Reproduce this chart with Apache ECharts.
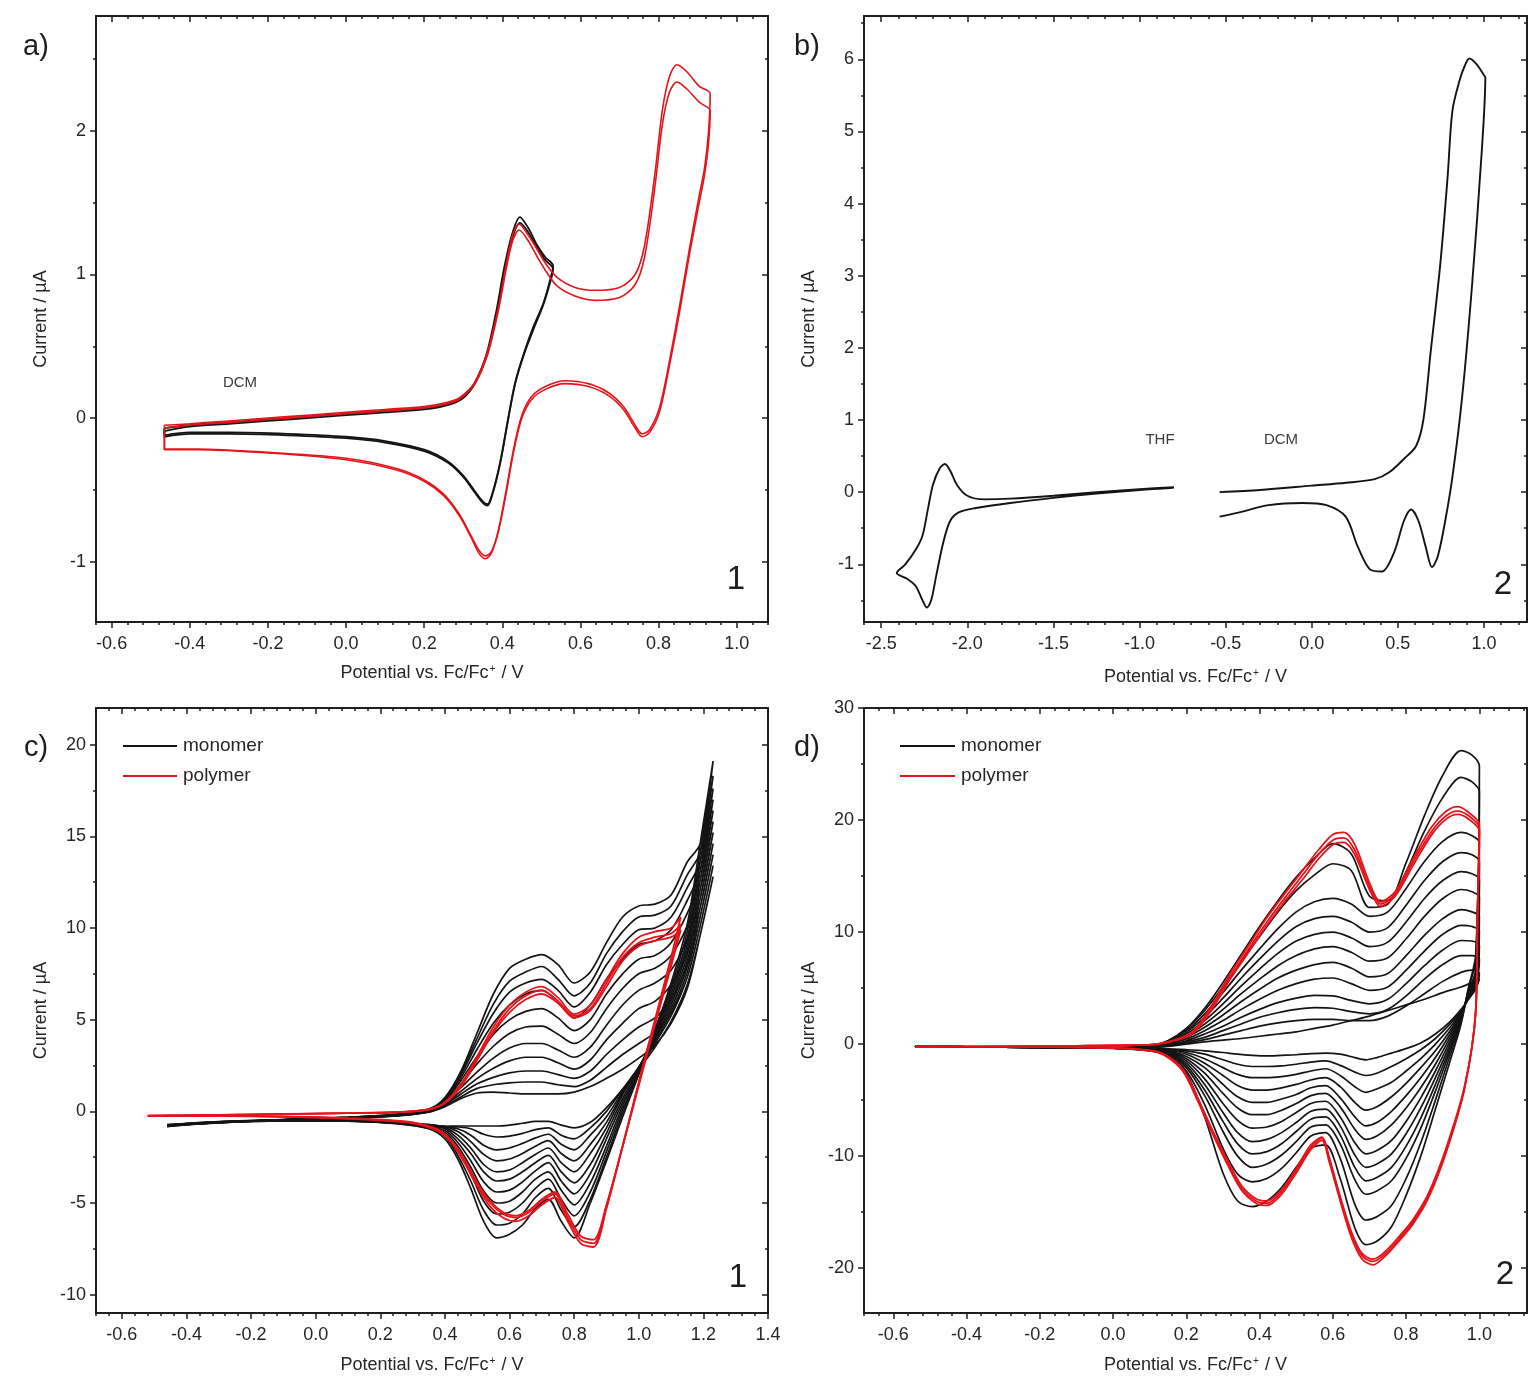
<!DOCTYPE html>
<html>
<head>
<meta charset="utf-8">
<script src="https://cdn.jsdelivr.net/npm/echarts@6/dist/echarts.min.js"></script>
<style>
  html, body { margin: 0; padding: 0; background: #fff; }
  #chart { width: 1531px; height: 1382px; }
</style>
</head>
<body>
<div id="chart"></div>
<script>
// ---------- Panel a: compound 1 in DCM, [potential V, current µA] ----------
const aNarrowScanA = [[-0.465,-0.07],[-0.40,-0.05],[-0.30,-0.03],[-0.20,-0.01],[-0.10,0.01],[0.0,0.03],[0.10,0.05],[0.20,0.07],[0.26,0.10],[0.30,0.15],[0.33,0.25],[0.36,0.45],[0.385,0.75],[0.405,1.05],[0.425,1.28],[0.445,1.40],[0.465,1.33],[0.49,1.20],[0.51,1.12],[0.53,1.06],
  [0.522,0.96],[0.505,0.80],[0.48,0.64],[0.455,0.45],[0.433,0.25],[0.415,0.0],[0.395,-0.30],[0.375,-0.52],[0.362,-0.60],[0.35,-0.58],[0.33,-0.51],[0.30,-0.40],[0.26,-0.30],[0.20,-0.22],[0.10,-0.16],[0.0,-0.13],[-0.15,-0.11],[-0.30,-0.10],[-0.40,-0.10],[-0.465,-0.12],[-0.465,-0.07]];
const aNarrowScanB = [[-0.465,-0.09],[-0.40,-0.06],[-0.30,-0.04],[-0.20,-0.02],[-0.10,0.0],[0.0,0.02],[0.10,0.04],[0.20,0.06],[0.26,0.09],[0.30,0.14],[0.33,0.24],[0.36,0.43],[0.385,0.72],[0.405,1.02],[0.425,1.25],[0.445,1.36],[0.465,1.30],[0.49,1.18],[0.51,1.10],[0.53,1.04],
  [0.522,0.94],[0.505,0.79],[0.48,0.62],[0.455,0.44],[0.433,0.24],[0.415,-0.01],[0.395,-0.31],[0.375,-0.53],[0.362,-0.61],[0.35,-0.59],[0.33,-0.52],[0.30,-0.41],[0.26,-0.31],[0.20,-0.23],[0.10,-0.17],[0.0,-0.14],[-0.15,-0.12],[-0.30,-0.11],[-0.40,-0.11],[-0.465,-0.13],[-0.465,-0.09]];
const aWideScanA = [[-0.465,-0.05],[-0.40,-0.04],[-0.30,-0.02],[-0.20,0.0],[-0.10,0.02],[0.0,0.04],[0.10,0.06],[0.20,0.08],[0.26,0.11],[0.29,0.14],[0.33,0.25],[0.363,0.47],[0.39,0.77],[0.41,1.07],[0.427,1.28],[0.443,1.35],[0.465,1.28],[0.49,1.17],[0.51,1.08],[0.54,0.98],[0.586,0.91],[0.637,0.89],[0.70,0.91],[0.74,1.0],[0.764,1.2],[0.79,1.69],[0.81,2.15],[0.828,2.38],[0.847,2.46],[0.873,2.41],[0.904,2.31],[0.932,2.26],
  [0.928,2.0],[0.918,1.75],[0.904,1.55],[0.879,1.18],[0.853,0.77],[0.828,0.40],[0.803,0.08],[0.777,-0.08],[0.758,-0.11],[0.738,-0.04],[0.71,0.08],[0.67,0.18],[0.62,0.24],[0.56,0.26],[0.51,0.22],[0.475,0.15],[0.45,0.02],[0.43,-0.20],[0.41,-0.50],[0.39,-0.78],[0.372,-0.94],[0.357,-0.98],[0.34,-0.94],[0.32,-0.83],[0.29,-0.68],[0.25,-0.54],[0.20,-0.44],[0.127,-0.36],[0.0,-0.29],[-0.19,-0.245],[-0.38,-0.22],[-0.465,-0.22],[-0.465,-0.05]];
const aWideScanB = [[-0.465,-0.07],[-0.40,-0.05],[-0.30,-0.03],[-0.20,-0.01],[-0.10,0.01],[0.0,0.03],[0.10,0.05],[0.20,0.07],[0.26,0.10],[0.29,0.13],[0.33,0.24],[0.363,0.45],[0.39,0.75],[0.41,1.04],[0.427,1.24],[0.443,1.31],[0.465,1.24],[0.49,1.12],[0.51,1.03],[0.54,0.92],[0.586,0.85],[0.637,0.82],[0.70,0.84],[0.74,0.93],[0.764,1.12],[0.79,1.6],[0.81,2.05],[0.828,2.27],[0.847,2.34],[0.873,2.29],[0.904,2.2],[0.932,2.14],
  [0.928,1.92],[0.918,1.7],[0.904,1.5],[0.879,1.14],[0.853,0.73],[0.828,0.37],[0.803,0.05],[0.777,-0.10],[0.758,-0.13],[0.738,-0.06],[0.71,0.06],[0.67,0.16],[0.62,0.22],[0.56,0.24],[0.51,0.20],[0.475,0.13],[0.45,0.0],[0.43,-0.22],[0.41,-0.52],[0.39,-0.79],[0.372,-0.93],[0.357,-0.96],[0.34,-0.92],[0.32,-0.82],[0.29,-0.67],[0.25,-0.53],[0.20,-0.43],[0.127,-0.35],[0.0,-0.28],[-0.19,-0.24],[-0.38,-0.215],[-0.465,-0.215],[-0.465,-0.07]];

// ---------- Panel b: compound 2, THF (reduction) and DCM (oxidation) ----------
const bTHF = [[-0.80,0.06],[-1.0,0.03],[-1.25,-0.02],[-1.5,-0.08],[-1.75,-0.15],[-1.95,-0.22],[-2.05,-0.28],[-2.10,-0.40],[-2.14,-0.70],[-2.18,-1.15],[-2.21,-1.50],[-2.235,-1.60],[-2.26,-1.50],[-2.30,-1.30],[-2.35,-1.20],[-2.41,-1.12],
  [-2.36,-1.0],[-2.30,-0.80],[-2.26,-0.60],[-2.23,-0.25],[-2.20,0.10],[-2.16,0.33],[-2.13,0.39],[-2.10,0.30],[-2.06,0.10],[-2.0,-0.05],[-1.9,-0.10],[-1.75,-0.09],[-1.5,-0.05],[-1.25,0.0],[-1.0,0.04],[-0.80,0.07]];
const bDCM = [[-0.535,0.0],[-0.30,0.03],[0.0,0.09],[0.20,0.13],[0.366,0.18],[0.45,0.275],[0.535,0.46],[0.606,0.64],[0.648,1.0],[0.69,1.93],[0.746,3.15],[0.789,4.37],[0.817,5.29],[0.86,5.72],[0.887,5.9],[0.915,6.01],[0.958,5.93],[1.0,5.78],
  [1.008,5.75],[0.986,4.68],[0.93,2.84],[0.873,1.31],[0.817,0.21],[0.775,-0.40],[0.732,-0.89],[0.698,-1.04],[0.662,-0.76],[0.62,-0.40],[0.577,-0.24],[0.535,-0.40],[0.479,-0.83],[0.408,-1.10],[0.338,-1.07],[0.268,-0.76],[0.197,-0.34],[0.085,-0.18],[-0.056,-0.15],[-0.25,-0.18],[-0.42,-0.28],[-0.535,-0.34]];

// ---------- Panel c: electropolymerisation of 1, successive cycles ----------
const cFwdX = [-0.46, -0.3, -0.1, 0.1, 0.25, 0.35, 0.40, 0.45, 0.50, 0.55, 0.60, 0.65, 0.70, 0.75, 0.80, 0.85, 0.90, 0.95, 1.00, 1.05, 1.10, 1.15, 1.19, 1.23];
const cRevX = [1.23, 1.19, 1.15, 1.10, 1.05, 1.00, 0.95, 0.90, 0.85, 0.80, 0.76, 0.72, 0.68, 0.64, 0.60, 0.56, 0.52, 0.48, 0.44, 0.40, 0.35, 0.25, 0.10, -0.10, -0.30, -0.46];
const cMonomerFwd = [
  [-0.72, -0.58, -0.45, -0.36, -0.25, -0.05, 0.25, 0.7, 1.0, 1.05, 1.0, 0.95, 0.95, 0.95, 1.05, 1.35, 1.8, 2.3, 2.9, 3.6, 4.8, 6.7, 9.6, 12.8],
  [-0.74, -0.59, -0.45, -0.35, -0.24, -0.03, 0.3, 0.8, 1.25, 1.45, 1.55, 1.6, 1.6, 1.45, 1.35, 1.7, 2.4, 3.1, 3.7, 4.3, 5.4, 7.3, 10.1, 13.4],
  [-0.75, -0.6, -0.46, -0.35, -0.24, -0.02, 0.35, 0.95, 1.5, 1.85, 2.1, 2.2, 2.2, 2.0, 1.8, 2.2, 3.1, 3.9, 4.6, 5.1, 6.1, 8.0, 10.6, 14.0],
  [-0.76, -0.6, -0.46, -0.35, -0.23, 0.0, 0.4, 1.1, 1.8, 2.35, 2.75, 2.95, 2.95, 2.65, 2.3, 2.8, 3.9, 4.8, 5.6, 6.0, 6.9, 8.7, 11.1, 14.6],
  [-0.76, -0.6, -0.46, -0.34, -0.22, 0.02, 0.45, 1.3, 2.15, 2.9, 3.45, 3.7, 3.7, 3.35, 2.95, 3.5, 4.7, 5.8, 6.6, 7.0, 7.7, 9.4, 11.6, 15.2],
  [-0.77, -0.61, -0.46, -0.34, -0.21, 0.04, 0.5, 1.5, 2.6, 3.55, 4.25, 4.6, 4.65, 4.2, 3.7, 4.3, 5.6, 6.7, 7.5, 7.8, 8.5, 10.1, 12.1, 15.8],
  [-0.77, -0.61, -0.46, -0.34, -0.2, 0.06, 0.55, 1.7, 3.0, 4.2, 5.0, 5.45, 5.6, 5.1, 4.4, 5.0, 6.4, 7.5, 8.3, 8.5, 9.2, 10.8, 12.6, 16.4],
  [-0.78, -0.62, -0.46, -0.33, -0.19, 0.08, 0.6, 1.85, 3.4, 4.8, 5.8, 6.4, 6.6, 6.0, 5.1, 5.8, 7.2, 8.3, 9.1, 9.3, 9.9, 11.5, 13.1, 17.0],
  [-0.78, -0.62, -0.46, -0.33, -0.18, 0.09, 0.65, 2.0, 3.75, 5.35, 6.5, 7.0, 7.2, 6.6, 5.7, 6.5, 8.0, 9.1, 9.9, 10.0, 10.6, 12.2, 13.6, 17.6],
  [-0.79, -0.62, -0.46, -0.33, -0.17, 0.1, 0.7, 2.1, 4.0, 5.85, 7.1, 7.6, 7.9, 7.2, 6.3, 7.0, 8.6, 9.8, 10.6, 10.7, 11.2, 12.9, 14.1, 18.3],
  [-0.8, -0.63, -0.46, -0.32, -0.16, 0.12, 0.75, 2.2, 4.3, 6.4, 7.8, 8.3, 8.55, 8.0, 7.0, 7.6, 9.2, 10.6, 11.2, 11.3, 11.8, 13.6, 14.6, 19.1]
];
const cMonomerRev = [
  [12.8, 9.6, 6.9, 4.9, 3.5, 2.3, 1.2, 0.2, -0.6, -0.9, -0.75, -0.55, -0.55, -0.65, -0.75, -0.8, -0.8, -0.8, -0.8, -0.82, -0.72, -0.6, -0.5, -0.47, -0.56, -0.72],
  [13.4, 10.1, 7.3, 5.2, 3.7, 2.4, 1.2, 0.0, -0.9, -1.5, -1.3, -0.9, -1.0, -1.2, -1.35, -1.4, -1.25, -0.95, -0.85, -0.82, -0.73, -0.6, -0.5, -0.48, -0.57, -0.74],
  [14.0, 10.6, 7.6, 5.4, 3.8, 2.4, 1.1, -0.3, -1.3, -2.1, -1.8, -1.25, -1.45, -1.75, -2.0, -2.1, -1.85, -1.3, -0.95, -0.83, -0.75, -0.61, -0.5, -0.48, -0.58, -0.75],
  [14.6, 11.1, 7.9, 5.6, 3.9, 2.4, 1.0, -0.6, -1.8, -2.7, -2.3, -1.6, -1.9, -2.3, -2.6, -2.7, -2.35, -1.65, -1.1, -0.85, -0.77, -0.62, -0.5, -0.49, -0.58, -0.76],
  [15.2, 11.6, 8.2, 5.8, 4.0, 2.4, 0.9, -0.9, -2.3, -3.3, -2.8, -2.0, -2.35, -2.8, -3.2, -3.3, -2.9, -2.0, -1.3, -0.9, -0.8, -0.63, -0.51, -0.49, -0.59, -0.77],
  [15.8, 12.1, 8.5, 6.0, 4.1, 2.3, 0.7, -1.2, -2.9, -3.9, -3.3, -2.4, -2.8, -3.3, -3.7, -3.8, -3.3, -2.3, -1.5, -0.95, -0.82, -0.63, -0.51, -0.5, -0.6, -0.78],
  [16.4, 12.6, 8.8, 6.2, 4.2, 2.3, 0.5, -1.5, -3.4, -4.5, -3.8, -2.8, -3.25, -3.85, -4.3, -4.4, -3.85, -2.7, -1.7, -1.05, -0.85, -0.64, -0.52, -0.5, -0.6, -0.79],
  [17.0, 13.1, 9.1, 6.4, 4.3, 2.2, 0.3, -1.9, -3.9, -5.1, -4.3, -3.3, -3.7, -4.4, -4.9, -5.0, -4.35, -3.05, -1.9, -1.15, -0.88, -0.64, -0.52, -0.51, -0.61, -0.8],
  [17.6, 13.6, 9.4, 6.6, 4.4, 2.1, 0.1, -2.2, -4.4, -5.7, -4.8, -3.7, -4.2, -5.0, -5.5, -5.6, -4.9, -3.4, -2.15, -1.25, -0.9, -0.65, -0.52, -0.51, -0.61, -0.81],
  [18.3, 14.1, 9.8, 6.8, 4.5, 2.1, -0.1, -2.5, -4.8, -6.3, -5.4, -4.2, -4.7, -5.6, -6.1, -6.2, -5.4, -3.8, -2.4, -1.35, -0.93, -0.66, -0.53, -0.52, -0.62, -0.82],
  [19.1, 14.6, 10.2, 7.0, 4.4, 2.0, -0.3, -2.7, -5.0, -6.9, -6.0, -4.8, -5.3, -6.2, -6.7, -6.9, -6.0, -4.2, -2.6, -1.5, -0.95, -0.67, -0.53, -0.52, -0.62, -0.83]
];
const cPolyFwdX = [-0.52, -0.3, -0.1, 0.1, 0.25, 0.35, 0.40, 0.45, 0.50, 0.55, 0.60, 0.65, 0.70, 0.75, 0.80, 0.85, 0.90, 0.95, 1.00, 1.05, 1.10, 1.13];
const cPolyRevX = [1.13, 1.10, 1.05, 1.00, 0.95, 0.90, 0.86, 0.82, 0.78, 0.74, 0.70, 0.66, 0.62, 0.58, 0.54, 0.50, 0.46, 0.42, 0.38, 0.30, 0.10, -0.10, -0.30, -0.52];
const cPolymerFwd = [
  [-0.25, -0.2, -0.15, -0.1, -0.05, 0.1, 0.5, 1.5, 3.0, 4.6, 5.8, 6.5, 6.8, 6.2, 5.3, 5.8, 7.2, 8.6, 9.5, 9.8, 10.0, 10.6],
  [-0.24, -0.2, -0.15, -0.1, -0.05, 0.1, 0.45, 1.4, 2.9, 4.4, 5.6, 6.3, 6.6, 6.0, 5.2, 5.6, 7.0, 8.4, 9.2, 9.5, 9.7, 10.2],
  [-0.24, -0.19, -0.14, -0.1, -0.05, 0.1, 0.45, 1.35, 2.8, 4.3, 5.4, 6.1, 6.4, 5.9, 5.1, 5.5, 6.8, 8.2, 9.0, 9.3, 9.5, 9.9]
];
const cPolymerRev = [
  [10.6, 8.4, 5.0, 1.6, -1.9, -5.3, -7.4, -7.2, -6.0, -4.7, -5.1, -5.7, -6.0, -5.8, -5.2, -4.1, -2.8, -1.7, -1.1, -0.65, -0.4, -0.3, -0.26, -0.25],
  [10.2, 8.1, 4.8, 1.5, -1.9, -5.2, -7.2, -7.0, -5.8, -4.5, -4.9, -5.5, -5.8, -5.6, -5.0, -4.0, -2.7, -1.65, -1.05, -0.62, -0.38, -0.29, -0.25, -0.24],
  [9.9, 7.9, 4.7, 1.4, -1.9, -5.1, -7.0, -6.8, -5.6, -4.4, -4.8, -5.4, -5.7, -5.5, -4.9, -3.9, -2.6, -1.6, -1.0, -0.6, -0.37, -0.28, -0.25, -0.24]
];

// ---------- Panel d: electropolymerisation of 2, successive cycles ----------
const dFwdX = [-0.54, -0.4, -0.2, 0.0, 0.1, 0.15, 0.2, 0.25, 0.3, 0.35, 0.4, 0.45, 0.5, 0.55, 0.6, 0.65, 0.7, 0.75, 0.8, 0.85, 0.9, 0.95, 0.98, 1.0];
const dRevX = [1.0, 0.99, 0.97, 0.95, 0.92, 0.88, 0.84, 0.80, 0.76, 0.72, 0.69, 0.66, 0.62, 0.58, 0.54, 0.50, 0.46, 0.42, 0.38, 0.34, 0.30, 0.25, 0.20, 0.15, 0.10, 0.0, -0.2, -0.4, -0.54];
const dMonomerFwd = [
  [-0.2, -0.25, -0.3, -0.35, -0.3, -0.2, 0.0, 0.2, 0.35, 0.5, 0.7, 0.9, 1.1, 1.4, 1.7, 2.1, 2.5, 3.0, 3.5, 4.0, 4.6, 5.1, 5.5, 5.8],
  [-0.2, -0.25, -0.3, -0.35, -0.3, -0.15, 0.1, 0.4, 0.8, 1.2, 1.6, 1.9, 2.1, 2.2, 2.2, 2.1, 2.1, 2.5, 3.4, 4.5, 5.6, 6.4, 6.6, 6.3],
  [-0.2, -0.25, -0.3, -0.35, -0.28, -0.1, 0.2, 0.6, 1.2, 1.8, 2.4, 2.8, 3.1, 3.25, 3.2, 2.9, 2.7, 3.1, 4.3, 5.8, 7.1, 7.9, 7.9, 7.6],
  [-0.2, -0.25, -0.3, -0.35, -0.27, -0.05, 0.3, 0.9, 1.6, 2.4, 3.1, 3.7, 4.1, 4.35, 4.3, 3.9, 3.6, 4.0, 5.4, 7.0, 8.4, 9.25, 9.2, 8.8],
  [-0.2, -0.25, -0.3, -0.34, -0.26, 0.0, 0.45, 1.2, 2.1, 3.1, 4.0, 4.8, 5.4, 5.8, 5.9, 5.4, 4.8, 5.1, 6.6, 8.3, 9.8, 10.6, 10.5, 10.1],
  [-0.2, -0.25, -0.3, -0.34, -0.25, 0.05, 0.6, 1.5, 2.6, 3.8, 4.9, 5.9, 6.6, 7.1, 7.3, 6.8, 6.0, 6.3, 7.9, 9.7, 11.2, 12.0, 11.8, 11.4],
  [-0.2, -0.25, -0.3, -0.34, -0.24, 0.1, 0.75, 1.8, 3.1, 4.5, 5.8, 7.0, 7.9, 8.5, 8.7, 8.2, 7.4, 7.7, 9.4, 11.4, 13.0, 13.8, 13.6, 13.1],
  [-0.2, -0.25, -0.3, -0.33, -0.23, 0.15, 0.9, 2.1, 3.6, 5.2, 6.7, 8.1, 9.2, 9.8, 10.0, 9.5, 8.7, 9.1, 10.9, 13.0, 14.6, 15.4, 15.2, 14.7],
  [-0.2, -0.25, -0.3, -0.33, -0.22, 0.2, 1.05, 2.4, 4.1, 5.9, 7.6, 9.2, 10.5, 11.2, 11.4, 10.9, 10.0, 10.4, 12.4, 14.6, 16.3, 17.1, 16.9, 16.3],
  [-0.2, -0.25, -0.3, -0.33, -0.21, 0.25, 1.2, 2.7, 4.6, 6.6, 8.5, 10.3, 11.8, 12.7, 13.0, 12.5, 11.4, 11.8, 13.9, 16.3, 18.1, 18.9, 18.6, 18.0],
  [-0.2, -0.25, -0.3, -0.32, -0.2, 0.3, 1.35, 3.0, 5.1, 7.4, 9.6, 11.8, 13.7, 15.1, 16.1, 15.5, 12.2, 12.5, 15.4, 19.0, 22.0, 23.8, 23.4, 22.5],
  [-0.2, -0.25, -0.3, -0.32, -0.2, 0.3, 1.4, 3.2, 5.5, 8.0, 10.5, 12.8, 14.9, 16.6, 17.9, 17.0, 13.2, 12.8, 16.2, 20.4, 24.0, 26.2, 25.8, 24.8]
];
const dMonomerRev = [
  [5.8, 4.9, 4.0, 3.1, 2.0, 0.9, 0.1, -0.4, -0.8, -1.2, -1.4, -1.2, -0.9, -0.8, -0.85, -0.95, -1.0, -1.05, -1.0, -0.9, -0.75, -0.6, -0.5, -0.42, -0.38, -0.32, -0.28, -0.24, -0.22],
  [6.3, 5.0, 4.0, 3.0, 1.8, 0.5, -0.5, -1.3, -2.0, -2.6, -2.8, -2.5, -1.9, -1.5, -1.6, -1.8, -1.95, -2.0, -2.0, -1.8, -1.4, -0.9, -0.6, -0.45, -0.39, -0.33, -0.28, -0.24, -0.22],
  [7.6, 5.2, 4.1, 2.9, 1.5, 0.0, -1.3, -2.4, -3.4, -4.0, -4.3, -3.8, -2.8, -2.2, -2.4, -2.7, -2.9, -3.0, -3.0, -2.7, -2.1, -1.3, -0.75, -0.5, -0.4, -0.33, -0.28, -0.24, -0.22],
  [8.8, 5.4, 4.1, 2.8, 1.2, -0.6, -2.1, -3.5, -4.7, -5.6, -5.9, -5.2, -3.8, -3.0, -3.2, -3.6, -3.9, -4.1, -4.1, -3.7, -2.8, -1.7, -0.9, -0.55, -0.42, -0.34, -0.28, -0.24, -0.22],
  [10.1, 5.6, 4.2, 2.7, 0.9, -1.2, -3.0, -4.6, -6.0, -7.0, -7.3, -6.5, -4.8, -3.7, -3.9, -4.5, -4.9, -5.2, -5.2, -4.7, -3.6, -2.1, -1.1, -0.6, -0.44, -0.34, -0.28, -0.24, -0.22],
  [11.4, 5.8, 4.3, 2.6, 0.6, -1.8, -3.9, -5.7, -7.2, -8.2, -8.5, -7.6, -5.6, -4.4, -4.6, -5.3, -5.9, -6.3, -6.3, -5.7, -4.4, -2.6, -1.3, -0.65, -0.46, -0.35, -0.28, -0.24, -0.22],
  [13.1, 6.0, 4.4, 2.5, 0.3, -2.4, -4.8, -6.9, -8.6, -9.5, -9.8, -8.8, -6.5, -5.1, -5.3, -6.1, -6.9, -7.4, -7.5, -6.8, -5.3, -3.1, -1.5, -0.7, -0.48, -0.35, -0.28, -0.24, -0.22],
  [14.7, 6.2, 4.5, 2.4, 0.0, -3.0, -5.7, -8.0, -9.8, -10.7, -11.0, -9.9, -7.3, -5.8, -6.0, -7.0, -7.9, -8.5, -8.7, -7.9, -6.1, -3.6, -1.7, -0.75, -0.5, -0.36, -0.28, -0.24, -0.22],
  [16.3, 6.4, 4.6, 2.3, -0.3, -3.6, -6.6, -9.1, -11.0, -11.9, -12.2, -11.0, -8.1, -6.5, -6.7, -7.8, -8.9, -9.6, -9.8, -8.9, -6.9, -4.1, -1.9, -0.8, -0.52, -0.36, -0.28, -0.24, -0.22],
  [18.0, 6.6, 4.7, 2.2, -0.6, -4.2, -7.5, -10.2, -12.2, -13.1, -13.4, -12.1, -8.9, -7.2, -7.4, -8.7, -9.9, -10.7, -11.0, -10.0, -7.8, -4.6, -2.1, -0.85, -0.54, -0.37, -0.28, -0.24, -0.22],
  [22.5, 7.5, 4.9, 2.0, -1.0, -5.0, -8.8, -12.0, -14.4, -15.4, -15.7, -14.3, -10.2, -7.9, -8.2, -9.7, -11.1, -12.0, -12.3, -11.6, -9.3, -5.4, -2.4, -0.95, -0.56, -0.37, -0.28, -0.24, -0.22],
  [24.8, 8.0, 5.0, 1.8, -1.5, -5.8, -10.0, -13.5, -16.3, -17.6, -17.9, -16.4, -12.0, -9.0, -9.3, -11.0, -12.8, -14.0, -14.5, -14.0, -11.5, -6.5, -2.6, -1.0, -0.6, -0.38, -0.28, -0.24, -0.22]
];
const dPolyFwdX = [-0.54, -0.3, -0.1, 0.05, 0.12, 0.18, 0.22, 0.27, 0.32, 0.37, 0.42, 0.47, 0.52, 0.56, 0.60, 0.63, 0.66, 0.70, 0.73, 0.77, 0.82, 0.87, 0.91, 0.94, 0.97, 1.0];
const dPolyRevX = [1.0, 0.995, 0.99, 0.96, 0.91, 0.86, 0.82, 0.78, 0.74, 0.71, 0.68, 0.65, 0.62, 0.59, 0.57, 0.54, 0.50, 0.46, 0.42, 0.39, 0.35, 0.31, 0.27, 0.23, 0.19, 0.14, 0.10, 0.0, -0.2, -0.4, -0.54];
const dPolymerFwd = [
  [-0.25, -0.2, -0.15, -0.1, 0.0, 0.5, 1.2, 3.5, 6.3, 8.8, 11.3, 13.5, 15.6, 17.3, 18.7, 18.9, 17.8, 14.4, 12.7, 13.6, 16.6, 19.4, 20.8, 21.2, 20.7, 19.6],
  [-0.25, -0.2, -0.15, -0.1, 0.0, 0.45, 1.1, 3.3, 6.0, 8.5, 10.9, 13.1, 15.2, 16.9, 18.2, 18.4, 17.3, 14.1, 12.5, 13.4, 16.3, 19.0, 20.4, 20.8, 20.4, 19.3],
  [-0.25, -0.2, -0.15, -0.1, 0.0, 0.42, 1.0, 3.1, 5.8, 8.2, 10.6, 12.8, 14.8, 16.5, 17.8, 18.0, 16.9, 13.8, 12.3, 13.2, 16.0, 18.7, 20.1, 20.5, 20.1, 19.0]
];
const dPolymerRev = [
  [19.6, 12.0, 3.0, -3.9, -9.6, -13.8, -16.0, -17.6, -19.0, -19.7, -19.2, -17.2, -14.0, -10.5, -8.6, -9.4, -11.5, -13.4, -14.4, -14.2, -13.0, -10.6, -7.9, -5.0, -2.4, -1.0, -0.6, -0.35, -0.25, -0.22, -0.2],
  [19.3, 11.8, 2.9, -3.8, -9.4, -13.6, -15.8, -17.4, -18.8, -19.4, -18.9, -16.9, -13.8, -10.3, -8.4, -9.2, -11.3, -13.2, -14.2, -14.0, -12.8, -10.4, -7.7, -4.8, -2.3, -0.95, -0.58, -0.34, -0.25, -0.22, -0.2],
  [19.0, 11.6, 2.8, -3.7, -9.2, -13.4, -15.6, -17.2, -18.6, -19.2, -18.7, -16.7, -13.6, -10.1, -8.3, -9.0, -11.1, -13.0, -14.0, -13.8, -12.6, -10.2, -7.6, -4.7, -2.2, -0.9, -0.56, -0.33, -0.24, -0.21, -0.2]
];

// ---------- Axis ticks ----------
const aXTicks = [-0.6, -0.4, -0.2, 0.0, 0.2, 0.4, 0.6, 0.8, 1.0];
const aYTicks = [-1, 0, 1, 2];
const bXTicks = [-2.5, -2.0, -1.5, -1.0, -0.5, 0.0, 0.5, 1.0];
const bYTicks = [-1, 0, 1, 2, 3, 4, 5, 6];
const cXTicks = [-0.6, -0.4, -0.2, 0.0, 0.2, 0.4, 0.6, 0.8, 1.0, 1.2, 1.4];
const cYTicks = [-10, -5, 0, 5, 10, 15, 20];
const dXTicks = [-0.6, -0.4, -0.2, 0.0, 0.2, 0.4, 0.6, 0.8, 1.0];
const dYTicks = [-20, -10, 0, 10, 20, 30];

const FONT = "'Liberation Sans', Arial, Helvetica, sans-serif";
const INK = '#1e1e1e';
const TXT = '#262626';
const BLACK = '#141414';
const RED = '#e5141b';
const X_NAME = 'Potential vs. Fc/Fc{sup|+} / V';
const Y_NAME = 'Current / \u00b5A';

function minorValues(min, max, step) {
  const out = [];
  for (let i = Math.ceil(min / step - 1e-9); i * step <= max + 1e-9; i++) out.push(+(i * step).toFixed(4));
  return out;
}

function axisSet(dim, g, min, max, majors, minorStep, digits, nameGap) {
  const minors = minorValues(min, max, minorStep);
  const lo = dim === 'x' ? 'bottom' : 'left';
  const hi = dim === 'x' ? 'top' : 'right';
  const base = {
    gridIndex: g, type: 'value', min, max,
    splitLine: { show: false },
    axisLine: { onZero: false, lineStyle: { color: INK, width: 2 } }
  };
  const hidden = { show: false, onZero: false };
  const tickStyle = { color: INK, width: 1.5 };
  const main = {
    ...base, position: lo,
    axisTick: { customValues: majors, inside: false, length: 6, lineStyle: tickStyle },
    axisLabel: {
      customValues: majors, margin: dim === 'x' ? 13 : 10, color: TXT, fontSize: 18, fontFamily: FONT,
      formatter: v => Number(v).toFixed(digits)
    },
    name: dim === 'x' ? X_NAME : Y_NAME,
    nameLocation: 'middle', nameGap,
    nameTextStyle: {
      color: TXT, fontSize: 18, fontFamily: FONT,
      rich: { sup: { fontSize: 10, fontFamily: FONT, color: TXT, verticalAlign: 'top', lineHeight: 10, padding: [0, 1, 9, 1] } }
    }
  };
  return [
    main,
    { ...base, position: lo, axisLine: hidden, axisTick: { customValues: minors, inside: false, length: 3, lineStyle: tickStyle }, axisLabel: { show: false } },
    { ...base, position: hi, axisTick: { customValues: majors, inside: true, length: 6, lineStyle: tickStyle }, axisLabel: { show: false } },
    { ...base, position: hi, axisLine: hidden, axisTick: { customValues: minors, inside: true, length: 3, lineStyle: tickStyle }, axisLabel: { show: false } }
  ];
}

const grids = [
  { left: 96, top: 16, width: 672, height: 606 },
  { left: 864, top: 16, width: 663, height: 606 },
  { left: 96, top: 708, width: 672, height: 605 },
  { left: 864, top: 708, width: 663, height: 605 }
];

const xAxes = [].concat(
  axisSet('x', 0, -0.64, 1.08, aXTicks, 0.04, 1, 42),
  axisSet('x', 1, -2.6, 1.25, bXTicks, 0.1, 1, 46),
  axisSet('x', 2, -0.68, 1.4, cXTicks, 0.04, 1, 43),
  axisSet('x', 3, -0.68, 1.13, dXTicks, 0.04, 1, 43)
);
const yAxes = [].concat(
  axisSet('y', 0, -1.42, 2.8, aYTicks, 0.5, 0, 46),
  axisSet('y', 1, -1.8, 6.6, bYTicks, 0.5, 0, 46),
  axisSet('y', 2, -11, 22, cYTicks, 2.5, 0, 46),
  axisSet('y', 3, -24, 30, dYTicks, 5, 0, 46)
);

function pairs(xs, ys) { return xs.map((x, i) => [x, ys[i]]); }
function cycle(xf, yf, xr, yr) {
  const pts = pairs(xf, yf).concat(pairs(xr, yr));
  pts.push(pts[0]);
  return pts;
}
function trace(g, data, color, width) {
  return {
    type: 'line', xAxisIndex: 4 * g, yAxisIndex: 4 * g, data,
    symbol: 'none', showSymbol: false, smooth: 0.3,
    lineStyle: { color, width }, silent: true, animation: false
  };
}

const series = [
  trace(0, aNarrowScanA, BLACK, 1.8), trace(0, aNarrowScanB, BLACK, 1.8),
  trace(0, aWideScanA, RED, 1.6), trace(0, aWideScanB, RED, 1.6),
  trace(1, bTHF, BLACK, 1.9), trace(1, bDCM, BLACK, 1.9)
];
cMonomerFwd.forEach((f, k) => series.push(trace(2, cycle(cFwdX, f, cRevX, cMonomerRev[k]), BLACK, 1.7)));
cPolymerFwd.forEach((f, k) => series.push(trace(2, cycle(cPolyFwdX, f, cPolyRevX, cPolymerRev[k]), RED, 1.8)));
dMonomerFwd.forEach((f, k) => series.push(trace(3, cycle(dFwdX, f, dRevX, dMonomerRev[k]), BLACK, 1.7)));
dPolymerFwd.forEach((f, k) => series.push(trace(3, cycle(dPolyFwdX, f, dPolyRevX, dPolymerRev[k]), RED, 1.8)));

function label(x, y, text, size, color, align) {
  return { type: 'text', x, y, silent: true, z: 10,
    style: { text, fill: color || TXT, font: size + 'px ' + FONT, align: align || 'center', verticalAlign: 'middle' } };
}
function legendLine(x1, x2, y, color) {
  return { type: 'line', silent: true, z: 10, shape: { x1, y1: y, x2, y2: y }, style: { stroke: color, lineWidth: 2 } };
}

const graphics = [
  label(36, 47, 'a)', 29, '#1e1e1e'), label(807, 47, 'b)', 29, '#1e1e1e'),
  label(36, 748, 'c)', 29, '#1e1e1e'), label(807, 748, 'd)', 29, '#1e1e1e'),
  label(736, 580, '1', 33, '#1e1e1e'), label(1503, 585, '2', 33, '#1e1e1e'),
  label(738, 1278, '1', 33, '#1e1e1e'), label(1505, 1275, '2', 33, '#1e1e1e'),
  label(240, 383, 'DCM', 15, '#3a3a3a'),
  label(1160, 440, 'THF', 15, '#3a3a3a'), label(1281, 440, 'DCM', 15, '#3a3a3a'),
  legendLine(123, 177, 746, BLACK), label(183, 746, 'monomer', 19, '#262626', 'left'),
  legendLine(123, 177, 776, RED), label(183, 776, 'polymer', 19, '#262626', 'left'),
  legendLine(900, 955, 746, BLACK), label(961, 746, 'monomer', 19, '#262626', 'left'),
  legendLine(900, 955, 776, RED), label(961, 776, 'polymer', 19, '#262626', 'left')
];

const chart = echarts.init(document.getElementById('chart'), null, { renderer: 'canvas' });
chart.setOption({
  backgroundColor: '#ffffff',
  animation: false,
  grid: grids,
  xAxis: xAxes,
  yAxis: yAxes,
  series,
  graphic: graphics
});
</script>
</body>
</html>
